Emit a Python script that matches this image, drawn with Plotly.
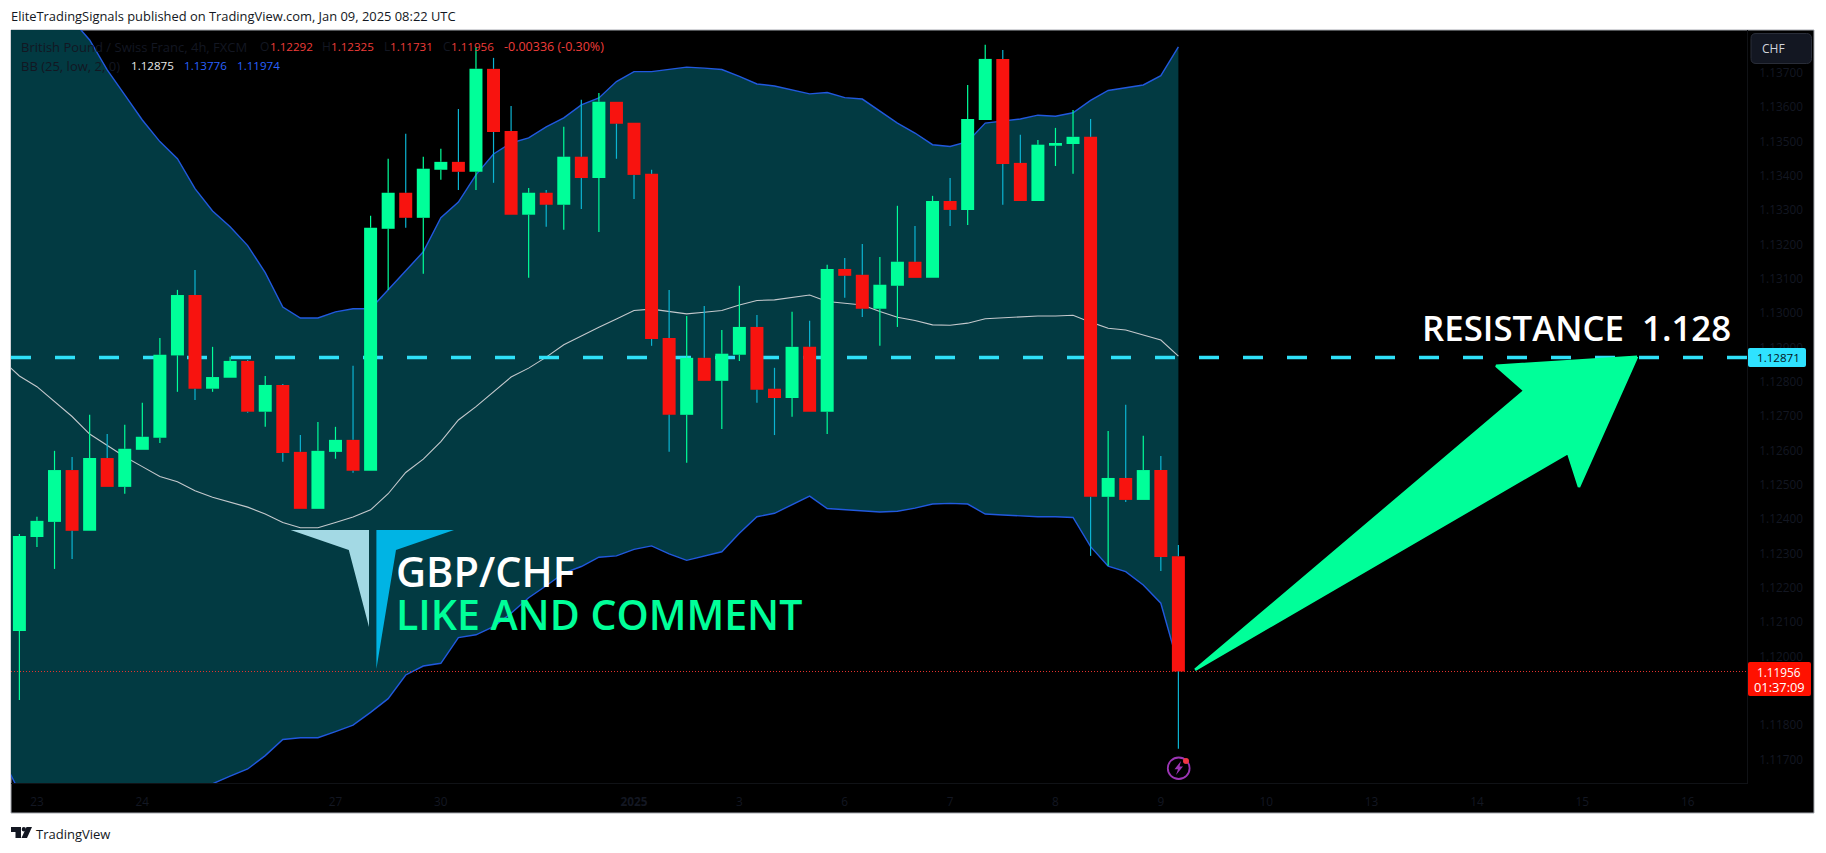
import plotly.graph_objects as go

W, H = 1826, 853
FONT = "Open Sans"

# OHLC of 4h GBP/CHF candles
opens = [1.12074,1.12348,1.12392,1.12543,1.12366,1.12578,1.12494,1.12602,1.12637,1.12877,
         1.13053,1.12780,1.12812,1.12861,1.12713,1.12791,1.12596,1.12430,1.12596,1.12631,
         1.12541,1.13246,1.13351,1.13278,1.13418,1.13441,1.13412,1.13712,1.13531,1.13287,
         1.13351,1.13316,1.13456,1.13394,1.13616,1.13555,1.13406,1.12928,1.12704,1.12870,
         1.12803,1.12879,1.12960,1.12780,1.12753,1.12902,1.12713,1.13129,1.13112,1.13013,
         1.13080,1.13150,1.13103,1.13327,1.13301,1.13563,1.13741,1.13438,1.13327,1.13488,
         1.13493,1.13514,1.12465,1.12520,1.12456,1.12543,1.12292]
highs = [1.12357,1.12407,1.12599,1.12581,1.12704,1.12648,1.12675,1.12739,1.12928,1.13068,
         1.13126,1.12902,1.12873,1.12864,1.12817,1.12794,1.12645,1.12683,1.12669,1.12847,
         1.13284,1.13450,1.13523,1.13456,1.13479,1.13595,1.13776,1.13744,1.13604,1.13365,
         1.13359,1.13543,1.13622,1.13642,1.13616,1.13555,1.13418,1.13068,1.12992,1.13021,
         1.12951,1.13080,1.12995,1.12841,1.13004,1.12978,1.13141,1.13161,1.13202,1.13164,
         1.13313,1.13254,1.13342,1.13394,1.13665,1.13782,1.13767,1.13520,1.13505,1.13540,
         1.13592,1.13566,1.12657,1.12733,1.12643,1.12584,1.12325]
lows = [1.11873,1.12319,1.12255,1.12284,1.12366,1.12494,1.12474,1.12602,1.12622,1.12771,
        1.12747,1.12771,1.12812,1.12710,1.12669,1.12567,1.12430,1.12430,1.12576,1.12535,
        1.12541,1.13068,1.13249,1.13115,1.13389,1.13359,1.13359,1.13380,1.13287,1.13103,
        1.13252,1.13243,1.13304,1.13237,1.13450,1.13333,1.12905,1.12596,1.12564,1.12803,
        1.12663,1.12861,1.12739,1.12645,1.12698,1.12713,1.12648,1.13045,1.12989,1.12905,
        1.12960,1.13103,1.13103,1.13254,1.13257,1.13563,1.13316,1.13327,1.13327,1.13429,
        1.13406,1.12293,1.12264,1.12450,1.12456,1.12249,1.11731]
closes = [1.12351,1.12395,1.12543,1.12366,1.12578,1.12494,1.12605,1.12640,1.12879,1.13053,
          1.12780,1.12814,1.12861,1.12713,1.12791,1.12593,1.12430,1.12599,1.12631,1.12541,
          1.13249,1.13351,1.13278,1.13421,1.13441,1.13412,1.13712,1.13528,1.13287,1.13351,
          1.13316,1.13456,1.13394,1.13616,1.13552,1.13403,1.12925,1.12704,1.12870,1.12803,
          1.12882,1.12960,1.12777,1.12753,1.12902,1.12713,1.13129,1.13109,1.13013,1.13083,
          1.13150,1.13103,1.13327,1.13301,1.13566,1.13741,1.13435,1.13327,1.13491,1.13496,
          1.13514,1.12465,1.12520,1.12456,1.12543,1.12290,1.11956]
bar_index = list(range(len(opens)))

# Bollinger band, one value per bar starting one bar before the first candle
bb_index = list(range(-1, len(opens)))
bb_upper = [1.14290,1.14190,1.14090,1.13970,1.13855,1.13796,1.13709,1.13636,1.13563,1.13500,
            1.13450,1.13363,1.13298,1.13252,1.13197,1.13118,1.13018,1.12986,1.12986,1.13004,
            1.13013,1.13013,1.13068,1.13123,1.13179,1.13278,1.13324,1.13403,1.13464,1.13496,
            1.13511,1.13543,1.13569,1.13607,1.13627,1.13675,1.13704,1.13704,1.13711,1.13717,
            1.13714,1.13710,1.13690,1.13668,1.13662,1.13651,1.13639,1.13643,1.13628,1.13624,
            1.13588,1.13554,1.13525,1.13491,1.13486,1.13500,1.13554,1.13560,1.13566,1.13577,
            1.13574,1.13584,1.13620,1.13649,1.13656,1.13665,1.13692,1.13776]
bb_basis = [1.12864,1.12817,1.12786,1.12743,1.12699,1.12648,1.12616,1.12582,1.12553,1.12524,
            1.12509,1.12483,1.12464,1.12450,1.12435,1.12415,1.12390,1.12375,1.12375,1.12390,
            1.12406,1.12427,1.12474,1.12536,1.12575,1.12626,1.12689,1.12728,1.12772,1.12814,
            1.12840,1.12872,1.12908,1.12934,1.12959,1.12983,1.13008,1.13012,1.13004,1.12998,
            1.13003,1.13008,1.13024,1.13037,1.13039,1.13047,1.13053,1.13034,1.13029,1.13024,
            1.13005,1.12988,1.12979,1.12966,1.12965,1.12971,1.12984,1.12987,1.12988,1.12992,
            1.12992,1.12994,1.12974,1.12956,1.12951,1.12937,1.12922,1.12875]
bb_lower = [1.11707,1.11605,1.11538,1.11465,1.11407,1.11363,1.11334,1.11349,1.11393,1.11465,
            1.11538,1.11588,1.11629,1.11651,1.11672,1.11711,1.11758,1.11763,1.11763,1.11781,
            1.11800,1.11837,1.11877,1.11946,1.11972,1.11980,1.12055,1.12063,1.12087,1.12126,
            1.12171,1.12206,1.12243,1.12262,1.12289,1.12293,1.12312,1.12322,1.12299,1.12280,
            1.12293,1.12305,1.12359,1.12407,1.12417,1.12442,1.12467,1.12431,1.12427,1.12423,
            1.12421,1.12423,1.12432,1.12444,1.12446,1.12444,1.12415,1.12412,1.12409,1.12407,
            1.12407,1.12405,1.12320,1.12263,1.12247,1.12208,1.12155,1.11974]

resistance_level = 1.12871
last_close = 1.11956

# hand-drawn arrow, in bar index / price
arrow_x = [92.12, 84.09, 85.71, 66.95, 88.19, 88.81]
arrow_y = [1.12873, 1.12847, 1.12774, 1.11961, 1.12593, 1.12494]

x_tick_vals = [1, 7, 18, 24, 35, 41, 47, 53, 59, 65, 71, 77, 83, 89, 95]
x_tick_text = ["23", "24", "27", "30", "<b>2025</b>", "3", "6", "7", "8", "9", "10", "13", "14", "15", "16"]
y_tick_vals = [1.137, 1.136, 1.135, 1.134, 1.133, 1.132, 1.131, 1.130, 1.129, 1.128,
               1.127, 1.126, 1.125, 1.124, 1.123, 1.122, 1.121, 1.120, 1.118, 1.117]
y_tick_text = [f"{v:.5f}" for v in y_tick_vals]

X_RANGE = [-0.478, 98.38]
Y_RANGE = [1.116312, 1.138252]

GREEN = "#00ff99"
RED = "#f8130f"
CYAN_WICK = "#0cb4d2"
BLUE = "#2159de"
TEAL = "#023a42"
DASH = "#2fe0f8"
AXIS_TEXT = "#131722"


def px(x, y):
    return x / W, 1 - y / H


def poly(points):
    s = []
    for k, (a, b) in enumerate(points):
        u, v = px(a, b)
        s.append(("M" if k == 0 else "L") + f"{u:.6f},{v:.6f}")
    return " ".join(s) + " Z"


def round_rect(x0, y0, x1, y1, r):
    def p(a, b):
        u, v = px(a, b)
        return f"{u:.6f},{v:.6f}"
    return (f"M{p(x0+r,y0)} L{p(x1-r,y0)} Q{p(x1,y0)} {p(x1,y0+r)} L{p(x1,y1-r)} Q{p(x1,y1)} {p(x1-r,y1)} "
            f"L{p(x0+r,y1)} Q{p(x0,y1)} {p(x0,y1-r)} L{p(x0,y0+r)} Q{p(x0,y0)} {p(x0+r,y0)} Z")


fig = go.Figure()

# Bollinger band
fig.add_trace(go.Scatter(x=bb_index, y=bb_upper, mode="lines", line=dict(color=BLUE, width=1.4)))
fig.add_trace(go.Scatter(x=bb_index, y=bb_lower, mode="lines", line=dict(color=BLUE, width=1.4),
                         fill="tonexty", fillcolor=TEAL))
fig.add_trace(go.Scatter(x=bb_index, y=bb_basis, mode="lines", line=dict(color="#c4c8cc", width=1.1)))

# horizontal levels
fig.add_trace(go.Scatter(x=X_RANGE, y=[resistance_level] * 2, mode="lines",
                         line=dict(color=DASH, width=3.5, dash="20px,24px")))
fig.add_trace(go.Scatter(x=X_RANGE, y=[last_close] * 2, mode="lines",
                         line=dict(color="#e8332e", width=1, dash="1px,2px")))

# candles live on an overlaid axis pair so they draw above the band
for is_up, colour in ((True, GREEN), (False, CYAN_WICK)):
    wx, wy = [], []
    for i, o, h, l, c in zip(bar_index, opens, highs, lows, closes):
        if (c >= o) != is_up:
            continue
        wx += [i, i, None, i, i, None]
        wy += [h, max(o, c), None, min(o, c), l, None]
    fig.add_trace(go.Scatter(x=wx, y=wy, mode="lines", line=dict(color=colour, width=1.2),
                             xaxis="x2", yaxis="y2", connectgaps=False))

fig.add_trace(go.Bar(x=bar_index,
                     base=[min(o, c) for o, c in zip(opens, closes)],
                     y=[abs(o - c) for o, c in zip(opens, closes)],
                     width=0.74,
                     marker=dict(color=[GREEN if c >= o else RED for o, c in zip(opens, closes)],
                                 line=dict(width=0)),
                     xaxis="x2", yaxis="y2"))

fig.add_trace(go.Scatter(x=arrow_x + arrow_x[:1], y=arrow_y + arrow_y[:1], mode="lines",
                         fill="toself", fillcolor=GREEN,
                         line=dict(color=GREEN, width=2.5, shape="linear"),
                         xaxis="x2", yaxis="y2"))

shapes = [
    dict(type="rect", xref="paper", yref="paper", layer="below",
         x0=px(11, 0)[0], x1=px(1814, 0)[0], y0=px(0, 813)[1], y1=px(0, 30)[1],
         fillcolor="#000000", line=dict(color="#a6a9b0", width=1)),
    # top band of the logo
    dict(type="path", xref="paper", yref="paper", layer="above", fillcolor="#a3d9e4", line=dict(width=0),
         path=poly([(290.6, 530), (369, 530), (369, 627), (348.8, 550)])),
    dict(type="path", xref="paper", yref="paper", layer="above", fillcolor="#00b4e4", line=dict(width=0),
         path=poly([(376.4, 530), (454, 530), (396, 550), (376.4, 669)])),
    # price labels
    dict(type="path", xref="paper", yref="paper", layer="above", fillcolor="#2fe2ff", line=dict(width=0),
         path=round_rect(1748, 348, 1806, 367, 2)),
    dict(type="path", xref="paper", yref="paper", layer="above", fillcolor="#ff1100", line=dict(width=0),
         path=round_rect(1748, 662, 1811, 696, 2)),
    # CHF button
    dict(type="path", xref="paper", yref="paper", layer="above", fillcolor="#131722",
         line=dict(color="#2a2e39", width=1), path=round_rect(1751, 33.5, 1811.5, 63.5, 5)),
    # TradingView logo
    dict(type="path", xref="paper", yref="paper", layer="above", fillcolor="#131722", line=dict(width=0),
         path=poly([(11, 827), (21, 827), (21, 838), (15.5, 838), (15.5, 832), (11, 832)])),
    dict(type="circle", xref="paper", yref="paper", layer="above", fillcolor="#131722", line=dict(width=0),
         x0=px(21.7, 0)[0], x1=px(26, 0)[0], y0=px(0, 831.5)[1], y1=px(0, 827)[1]),
    dict(type="path", xref="paper", yref="paper", layer="above", fillcolor="#131722", line=dict(width=0),
         path=poly([(26.5, 827), (32, 827), (27, 838), (21.5, 838)])),
    # alert icon
    dict(type="circle", xref="paper", yref="paper", layer="above", fillcolor="rgba(0,0,0,0)",
         line=dict(color="#9c35b5", width=1.8),
         x0=px(1167.8, 0)[0], x1=px(1189.6, 0)[0], y0=px(0, 779)[1], y1=px(0, 757.5)[1]),
    dict(type="path", xref="paper", yref="paper", layer="above", fillcolor="#9c35b5", line=dict(width=0),
         path=poly([(1181, 761), (1174.5, 769.3), (1178, 769.3), (1176, 775), (1183, 766.5), (1179.5, 766.5)])),
    dict(type="circle", xref="paper", yref="paper", layer="above", fillcolor="#f23645", line=dict(width=0),
         x0=px(1183, 0)[0], x1=px(1189, 0)[0], y0=px(0, 764)[1], y1=px(0, 758)[1]),
]

texts = [
    # header and footer
    ("EliteTradingSignals published on TradingView.com, Jan 09, 2025 08:22 UTC", 11, 16.5, 12.9, "#131722", 400),
    ("TradingView", 35.5, 834, 13, "#131722", 400),
    # legend line 1
    ("British Pound / Swiss Franc, 4h, FXCM", 20.5, 46.5, 13, AXIS_TEXT, 400),
    ("O", 260, 46.5, 12, AXIS_TEXT, 400), ("1.12292", 269.7, 46.5, 11.6, "#ef3d3a", 400),
    ("H", 321.5, 46.5, 12, AXIS_TEXT, 400), ("1.12325", 330.6, 46.5, 11.6, "#ef3d3a", 400),
    ("L", 383.5, 46.5, 12, AXIS_TEXT, 400), ("1.11731", 389.5, 46.5, 11.6, "#ef3d3a", 400),
    ("C", 443, 46.5, 12, AXIS_TEXT, 400), ("1.11956", 451, 46.5, 11.6, "#ef3d3a", 400),
    ("-0.00336 (-0.30%)", 504, 46.5, 12.5, "#ef3d3a", 400),
    # legend line 2
    ("BB (25, low, 2, 0)", 20.5, 65.5, 13, AXIS_TEXT, 400),
    ("1.12875", 130.5, 65.5, 11.6, "#e8e8e8", 400),
    ("1.13776", 184, 65.5, 11.6, "#2962ff", 400),
    ("1.11974", 236.5, 65.5, 11.6, "#2962ff", 400),
    # big labels
    ("GBP/CHF", 396, 571, 41.5, "#ffffff", 600),
    ("LIKE AND COMMENT", 396, 614, 41, GREEN, 600),
    ("RESISTANCE\u00a0\u00a01.128", 1422, 327, 34.8, "#ffffff", 600),
    # price scale labels
    ("CHF", 1761.5, 48, 12, "#d1d4dc", 400),
    ("1.12871", 1757, 357.5, 11.6, "#04141a", 400),
    ("1.11956", 1757, 671.7, 11.8, "#ffffff", 400),
    ("01:37:09", 1754, 686.7, 12.8, "#ffffff", 400),
]
annotations = []
for t, x, y, size, colour, weight in texts:
    u, v = px(x, y)
    annotations.append(dict(xref="paper", yref="paper", x=u, y=v, text=t, showarrow=False,
                            xanchor="left", yanchor="middle", borderpad=0, borderwidth=0,
                            font=dict(family=FONT, size=size, color=colour, weight=weight)))

axis_font = dict(family=FONT, size=11.8, color=AXIS_TEXT)
fig.update_layout(
    width=W, height=H, margin=dict(l=0, r=0, t=0, b=0, pad=0), autosize=False,
    paper_bgcolor="#ffffff", plot_bgcolor="#000000",
    showlegend=False, hovermode=False, barmode="overlay", dragmode=False,
    shapes=shapes, annotations=annotations,
    xaxis=dict(domain=[11 / W, 1747 / W], range=X_RANGE, showgrid=False, zeroline=False,
               tickmode="array", tickvals=x_tick_vals, ticktext=x_tick_text, ticks="",
               tickfont=axis_font, ticklabelstandoff=8, showline=True, linecolor="#101216", linewidth=1,
               fixedrange=True),
    yaxis=dict(domain=[1 - 783 / H, 1 - 30 / H], range=Y_RANGE, side="right", showgrid=False, zeroline=False,
               tickmode="array", tickvals=y_tick_vals, ticktext=y_tick_text, ticks="",
               tickfont=axis_font, ticklabelstandoff=9, showline=True, linecolor="#101216", linewidth=1,
               fixedrange=True),
    xaxis2=dict(overlaying="x", matches="x", visible=False, fixedrange=True),
    yaxis2=dict(overlaying="y", matches="y", visible=False, fixedrange=True),
)

fig.write_html("out.html", config=dict(displayModeBar=False, staticPlot=True),
               post_script="document.body.style.margin='0';document.body.style.overflow='hidden';")
